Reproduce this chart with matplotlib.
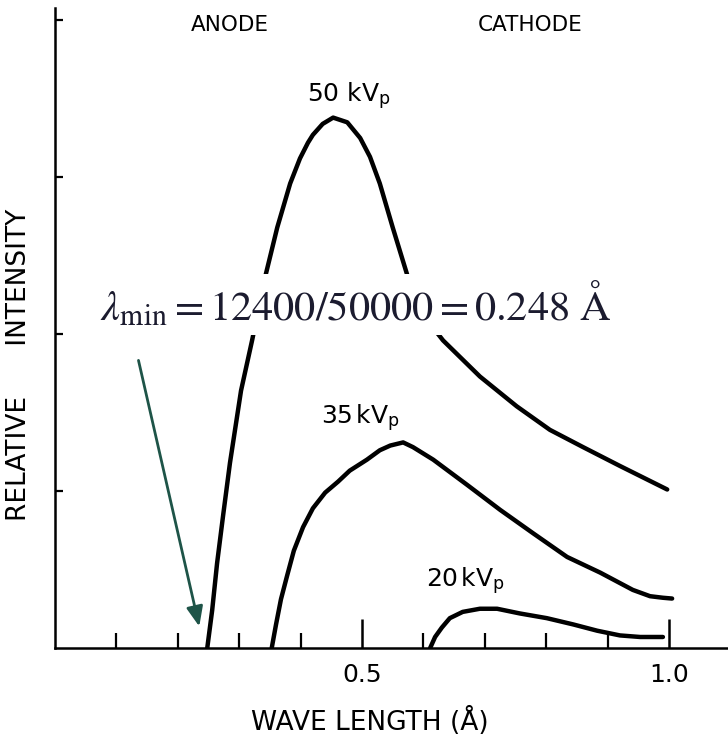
import numpy as np
import matplotlib.pyplot as plt

plt.rcParams['mathtext.fontset'] = 'stix'

# spectra (wavelength in angstrom, relative intensity)
wl_50 = [0.248, 0.256, 0.264, 0.274, 0.285, 0.303, 0.321, 0.342, 0.362, 0.383,
         0.399, 0.412, 0.420, 0.436, 0.453, 0.476, 0.497, 0.513, 0.529, 0.550,
         0.575, 0.594, 0.612, 0.632, 0.692, 0.752, 0.806, 0.860, 0.920, 0.997]
int_50 = [0.00, 0.24, 0.54, 0.85, 1.18, 1.64, 1.96, 2.36, 2.68, 2.96,
          3.12, 3.22, 3.27, 3.34, 3.38, 3.35, 3.25, 3.13, 2.96, 2.68,
          2.36, 2.18, 2.06, 1.96, 1.73, 1.54, 1.39, 1.28, 1.16, 1.01]

wl_35 = [0.353, 0.360, 0.368, 0.378, 0.389, 0.404, 0.420, 0.440, 0.461, 0.480,
         0.508, 0.529, 0.546, 0.567, 0.583, 0.616, 0.671, 0.725, 0.779, 0.834,
         0.888, 0.941, 0.969, 0.990, 1.005]
int_35 = [0.00, 0.15, 0.31, 0.46, 0.62, 0.77, 0.89, 0.99, 1.06, 1.13,
          1.20, 1.26, 1.29, 1.31, 1.28, 1.20, 1.04, 0.88, 0.73, 0.58,
          0.48, 0.37, 0.33, 0.32, 0.315]

wl_20 = [0.611, 0.619, 0.630, 0.643, 0.664, 0.692, 0.720, 0.757, 0.801, 0.844,
         0.883, 0.920, 0.953, 0.990]
int_20 = [0.00, 0.07, 0.13, 0.19, 0.23, 0.25, 0.25, 0.22, 0.19, 0.15,
          0.11, 0.08, 0.07, 0.07]

lambda_min = 0.248

fig = plt.figure(figsize=(7.28, 7.36), dpi=100)
ax = fig.add_axes([0.0755, 0.1196, 0.9245, 0.869])

for wl, inten in [(wl_50, int_50), (wl_35, int_35), (wl_20, int_20)]:
    ax.plot(wl, inten, color='black', lw=3.2, solid_capstyle='round',
            solid_joinstyle='round')

ax.set_xlim(0, 1.096)
ax.set_ylim(0, 4.076)

for s in ['top', 'right']:
    ax.spines[s].set_visible(False)
for s in ['left', 'bottom']:
    ax.spines[s].set_linewidth(1.8)

ax.set_xticks([0.5, 1.0])
ax.set_xticklabels(['0.5', '1.0'])
ax.set_xticks([0.1, 0.2, 0.3, 0.4, 0.6, 0.7, 0.8, 0.9], minor=True)
ax.tick_params(axis='x', which='major', direction='in', length=21, width=1.8,
               labelsize=18, pad=11)
ax.tick_params(axis='x', which='minor', direction='in', length=11, width=1.6)
ax.set_yticks([1, 2, 3, 4])
ax.tick_params(axis='y', direction='in', length=6, width=1.6, labelleft=False)

lab = dict(fontsize=15.5, family='DejaVu Sans', color='black')
big = dict(lab, fontsize=19)
ax.set_xlabel('WAVE LENGTH (Å)', **big)
ax.set_ylabel('RELATIVE      INTENSITY', **big)
ax.xaxis.set_label_coords(0.468, -0.092)
ax.yaxis.set_label_coords(-0.034, 0.442)

ax.text(0.285, 3.97, 'ANODE', ha='center', va='center', **lab)
ax.text(0.774, 3.97, 'CATHODE', ha='center', va='center', **lab)
kv = dict(lab, fontsize=18)
ax.text(0.478, 3.52, r'50 kV$_\mathregular{p}$', ha='center', va='center', **kv)
ax.text(0.497, 1.47, r'35$\,$kV$_\mathregular{p}$', ha='center', va='center', **kv)
ax.text(0.668, 0.43, r'20$\,$kV$_\mathregular{p}$', ha='center', va='center', **kv)

ax.text(0.490, 2.19, r'$\lambda_{\mathrm{min}} = 12400/50000 = 0.248\ \mathrm{Å}$',
        ha='center', va='center', fontsize=30.5, color='#1b1b2f',
        bbox=dict(facecolor='white', edgecolor='none', pad=4))

ax.annotate('', xy=(lambda_min - 0.012, 0.12), xytext=(0.135, 1.85),
            arrowprops=dict(arrowstyle='-|>,head_length=1.2,head_width=0.5',
                            color='#1e5448', lw=2))

fig.savefig('out.png', dpi=100)
